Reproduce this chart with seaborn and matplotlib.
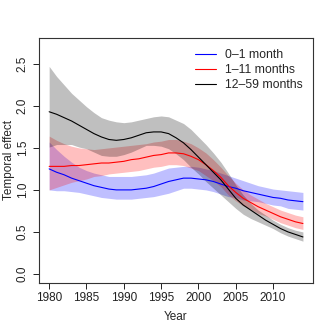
import numpy as np
import pandas as pd
import matplotlib
matplotlib.use("Agg")
import matplotlib.pyplot as plt
import seaborn as sns

# values, one per year 1980-2014
years = list(range(1980, 2015))

neo_fit = [1.25, 1.21, 1.18, 1.14, 1.11, 1.08, 1.05, 1.03, 1.01, 1.00,
           1.00, 1.00, 1.01, 1.02, 1.04, 1.07, 1.10, 1.12, 1.14, 1.14,
           1.13, 1.12, 1.10, 1.07, 1.04, 1.02, 0.99, 0.97, 0.95, 0.93,
           0.91, 0.90, 0.88, 0.87, 0.86]
neo_hi = [1.57, 1.48, 1.40, 1.33, 1.27, 1.23, 1.20, 1.18, 1.16, 1.16,
          1.16, 1.16, 1.17, 1.18, 1.20, 1.23, 1.26, 1.27, 1.28, 1.28,
          1.27, 1.25, 1.23, 1.20, 1.17, 1.14, 1.11, 1.08, 1.05, 1.03,
          1.01, 1.00, 0.99, 0.98, 0.97]
neo_lo = [1.00, 0.99, 0.99, 0.98, 0.97, 0.95, 0.93, 0.91, 0.90, 0.89,
          0.89, 0.89, 0.90, 0.91, 0.92, 0.94, 0.96, 0.99, 1.02, 1.02,
          1.01, 1.00, 0.98, 0.95, 0.92, 0.91, 0.88, 0.87, 0.86, 0.84,
          0.82, 0.81, 0.78, 0.77, 0.76]

inf_fit = [1.28, 1.28, 1.28, 1.29, 1.29, 1.30, 1.31, 1.32, 1.32, 1.33,
           1.34, 1.36, 1.37, 1.39, 1.41, 1.42, 1.44, 1.44, 1.43, 1.40,
           1.36, 1.30, 1.23, 1.15, 1.05, 0.97, 0.90, 0.85, 0.80, 0.76,
           0.72, 0.68, 0.65, 0.62, 0.60]
inf_hi = [1.64, 1.59, 1.55, 1.52, 1.50, 1.49, 1.48, 1.49, 1.50, 1.51,
          1.52, 1.53, 1.54, 1.55, 1.57, 1.58, 1.60, 1.60, 1.58, 1.55,
          1.50, 1.44, 1.36, 1.27, 1.17, 1.08, 1.00, 0.94, 0.89, 0.84,
          0.80, 0.76, 0.73, 0.70, 0.68]
inf_lo = [1.00, 1.03, 1.06, 1.09, 1.11, 1.13, 1.16, 1.17, 1.19, 1.20,
          1.21, 1.22, 1.23, 1.25, 1.27, 1.28, 1.30, 1.30, 1.29, 1.26,
          1.23, 1.17, 1.11, 1.04, 0.94, 0.87, 0.81, 0.77, 0.72, 0.69,
          0.65, 0.61, 0.58, 0.55, 0.53]

chi_fit = [1.93, 1.90, 1.86, 1.82, 1.77, 1.72, 1.67, 1.63, 1.60, 1.59,
           1.60, 1.62, 1.65, 1.68, 1.69, 1.69, 1.67, 1.62, 1.56, 1.48,
           1.39, 1.30, 1.21, 1.12, 1.01, 0.90, 0.82, 0.76, 0.70, 0.64,
           0.59, 0.54, 0.50, 0.47, 0.44]
chi_hi = [2.47, 2.35, 2.25, 2.15, 2.07, 1.99, 1.92, 1.86, 1.83, 1.81,
          1.80, 1.81, 1.83, 1.85, 1.87, 1.88, 1.87, 1.83, 1.79, 1.72,
          1.63, 1.54, 1.44, 1.33, 1.20, 1.06, 0.94, 0.84, 0.76, 0.70,
          0.64, 0.59, 0.55, 0.52, 0.50]
chi_lo = [1.51, 1.54, 1.54, 1.54, 1.51, 1.49, 1.45, 1.41, 1.40, 1.40,
          1.42, 1.45, 1.49, 1.53, 1.53, 1.52, 1.49, 1.43, 1.36, 1.27,
          1.19, 1.10, 1.02, 0.94, 0.86, 0.78, 0.71, 0.66, 0.62, 0.58,
          0.54, 0.49, 0.45, 0.42, 0.39]

groups = ["0\u20131 month", "1\u201311 months", "12\u201359 months"]
colors = ["blue", "red", "black"]

sns.set_style("ticks")
plt.rcParams["font.family"] = ["Liberation Sans", "DejaVu Sans"]

fig = plt.figure(figsize=(3.32, 3.32), dpi=100)
ax = fig.add_axes([0.1175, 0.1476, 0.8255, 0.738])

bands = [(neo_lo, neo_hi), (inf_lo, inf_hi), (chi_lo, chi_hi)]
for (lo, hi), c in zip(bands, colors):
    ax.fill_between(years, lo, hi, color=c, alpha=0.25, lw=0)

df = pd.DataFrame({
    "Year": years * 3,
    "effect": neo_fit + inf_fit + chi_fit,
    "group": [groups[0]] * len(years) + [groups[1]] * len(years) + [groups[2]] * len(years),
})
sns.lineplot(data=df, x="Year", y="effect", hue="group", hue_order=groups,
             palette=colors, lw=0.8, ax=ax)

ax.set_xlim(1978.64, 2015.36)
ax.set_ylim(-0.108, 2.808)
ax.set_xticks([1980, 1985, 1990, 1995, 2000, 2005, 2010])
ax.set_yticks([0.0, 0.5, 1.0, 1.5, 2.0, 2.5])
ax.set_yticklabels(["0.0", "0.5", "1.0", "1.5", "2.0", "2.5"], rotation=90, va="center")
ax.tick_params(direction="out", length=4.3, width=0.7, labelsize=8.5, pad=2, colors="#222222")
ax.tick_params(axis="y", pad=3)
for s in ax.spines.values():
    s.set_color("#333333")
    s.set_linewidth(0.8)

ax.set_xlabel("Year", fontsize=8.5, labelpad=5)
ax.set_ylabel("Temporal effect", fontsize=8.5)
ax.yaxis.set_label_coords(-0.087, 0.5)

ax.legend(loc="upper left", bbox_to_anchor=(0.587, 0.852), bbox_transform=fig.transFigure,
          frameon=False, fontsize=8.8, handlelength=1.7, handletextpad=0.8,
          labelspacing=0.25, borderpad=0, borderaxespad=0)

fig.savefig("out.png", dpi=100)
